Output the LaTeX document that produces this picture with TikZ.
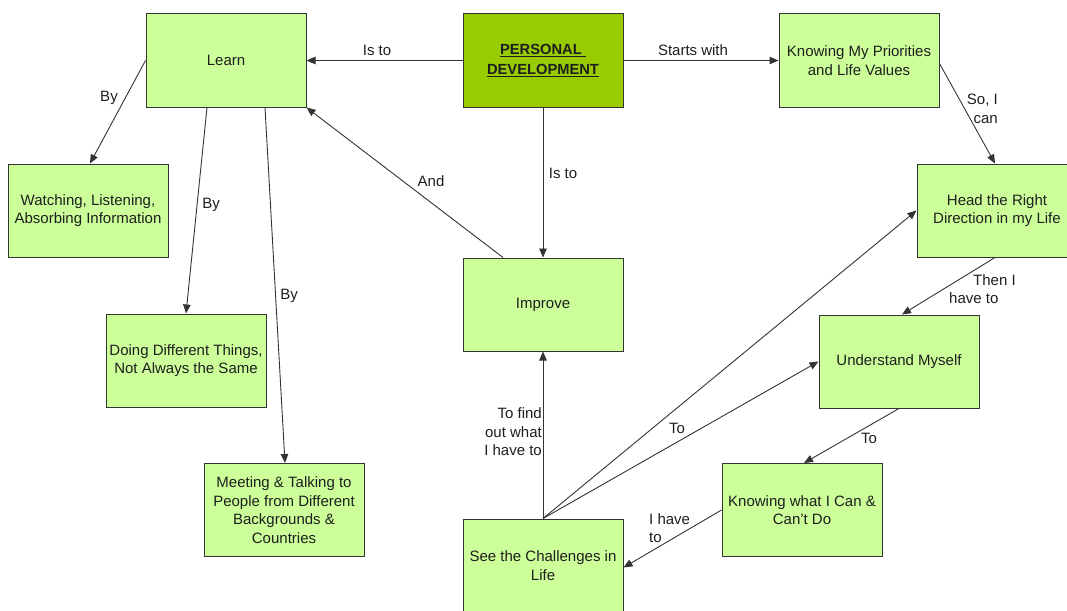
\documentclass[tikz,border=0pt]{standalone}
\usepackage{fontspec}
\setmainfont{Liberation Sans}
\usetikzlibrary{arrows.meta}
\definecolor{boxfill}{HTML}{CCFF99}
\definecolor{corefill}{HTML}{99CC00}
\definecolor{edgegray}{HTML}{333333}
\definecolor{ink}{HTML}{1E1E1E}
\begin{document}
\begin{tikzpicture}[x=1pt,y=-1pt,
  concept/.style={draw=edgegray, line width=1pt, fill=boxfill,
    minimum width=160pt, minimum height=93pt,
    align=center, inner sep=0pt, text=ink,
    font=\fontsize{15}{18.5}\selectfont},
  core/.style={concept, fill=corefill,
    font=\fontsize{14.7}{19.5}\selectfont\bfseries},
  link/.style={draw=edgegray, line width=0.9pt,
    -{Triangle[length=9pt,width=7.5pt]}},
  lbl/.style={inner sep=0pt, text=ink, font=\fontsize{15}{18.5}\selectfont}]
\useasboundingbox (0,0) rectangle (1067,610);

% concepts
\node[core]    (pd)      at (543,60.5)  {\underline{PERSONAL\ }\\\underline{DEVELOPMENT}};
\node[concept] (learn)   at (226,60.5)  {Learn};
\node[concept] (prio)    at (859,60.5)  {Knowing My Priorities\\and Life Values};
\node[concept] (watch)   at (88,210.5)  {Watching, Listening,\\Absorbing Information};
\node[concept] (doing)   at (186,360.5) {Doing Different Things,\\Not Always the Same};
\node[concept] (meet)    at (284,510)   {Meeting \& Talking to\\People from Different\\Backgrounds \&\\Countries};
\node[concept] (improve) at (543,304.5) {Improve};
\node[concept] (see)     at (543,565.5) {See the Challenges in\\Life};
\node[concept] (head)    at (997,210.5) {Head the Right\\Direction in my Life};
\node[concept] (under)   at (899,361.5) {Understand Myself};
\node[concept] (cando)   at (802,510)   {Knowing what I Can \&\\Can't Do};

% connectors
\draw[link] (pd.west) -- (learn.east);
\draw[link] (pd.east) -- (prio.west);
\draw[link] (pd.south) -- (improve.north);
\draw[link] ([xshift=-40pt]improve.north) -- (learn.south east);
\draw[link] (learn.west) -- ([xshift=2pt]watch.north);
\draw[link] ([xshift=-19pt]learn.south) -- (doing.north);
\draw[link] ([xshift=39pt]learn.south) -- ([xshift=1pt]meet.north);
\draw[link] ([yshift=-3pt]prio.east) -- ([xshift=-2pt]head.north);
\draw[link] ([xshift=-2pt]head.south) -- ([xshift=3pt]under.north);
\draw[link] (under.south) -- ([xshift=2pt]cando.north);
\draw[link] (cando.west) -- ([yshift=-2pt]see.east);
\draw[link] (see.north) -- (improve.south);
\draw[link] (see.north) -- (head.west);
\draw[link] (see.north) -- (under.west);

% connector labels
\node[lbl] (l1)  at (377,50)  {Is to};
\node[lbl] (l2)  at (693,50)  {Starts with};
\node[lbl] (l3)  at (563,173) {Is to};
\node[lbl] (l4)  at (431,181) {And};
\node[lbl] (l5)  at (109,98)  {By};
\node[lbl] (l6)  at (211,205) {By};
\node[lbl] (l7)  at (289,296) {By};
\node[lbl, align=right, anchor=east] (l8) at (998,109) {So, I\\can};
\node[lbl, align=left, anchor=west] (l9) at (949,289) {\hspace*{24pt}Then I\\have to};
\node[lbl] (l10) at (869,438) {To};
\node[lbl] (l11) at (677,428) {To};
\node[lbl, align=left, anchor=west] (l12) at (649,528) {I have\\to};
\node[lbl, align=right, anchor=east] (l13) at (542,432) {To find\\out what\\I have to};
\end{tikzpicture}
\end{document}
